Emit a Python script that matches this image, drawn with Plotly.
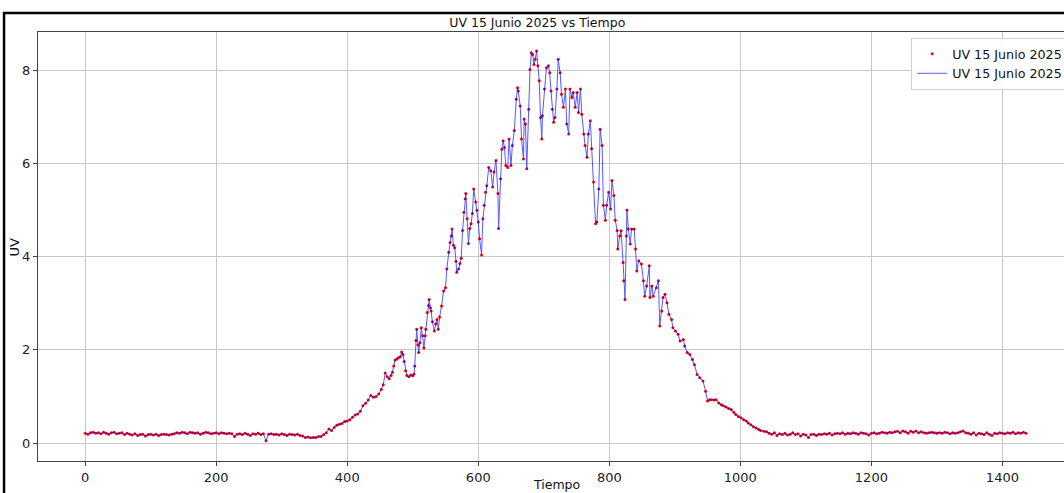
import plotly.graph_objects as go

# ---- data (minutes of the day, UV index) ----
left_times = list(range(0, 360, 4))
left_uv = [0.21, 0.19, 0.22, 0.23, 0.21, 0.22, 0.20, 0.23, 0.21, 0.19, 0.22, 0.23, 0.20, 0.21, 0.22, 0.18,
           0.21, 0.19, 0.17, 0.20, 0.16, 0.18, 0.19, 0.15, 0.18, 0.19, 0.17, 0.19, 0.16, 0.18, 0.19, 0.18, 0.17, 0.19, 0.20,
           0.22, 0.21, 0.23, 0.22, 0.20, 0.23, 0.22, 0.21, 0.22, 0.19, 0.21, 0.23, 0.22, 0.20, 0.21, 0.22, 0.20, 0.22, 0.21, 0.20, 0.21,
           0.20, 0.14, 0.19, 0.20, 0.18, 0.21, 0.19, 0.16, 0.20, 0.19, 0.21, 0.18, 0.20, 0.05, 0.19, 0.20, 0.18, 0.19, 0.17, 0.20, 0.18,
           0.16, 0.19, 0.18, 0.17, 0.19, 0.16,
           0.15, 0.12, 0.13, 0.11, 0.12, 0.12, 0.14]

mid_times = [360, 364, 368, 372, 376, 380, 384, 388, 392, 396, 400, 404, 408, 412, 416, 420, 424, 428, 432, 436,
             440, 444, 448, 452, 455, 458, 461, 464, 467, 469, 471, 473, 476, 478, 481, 483, 485, 487, 489, 491,
             494, 497, 500, 502, 503, 505, 506, 508, 509, 511, 513, 515, 517, 519, 520, 522, 524, 525, 527, 528,
             530, 533, 535, 537, 539, 541, 544, 547, 550, 552, 555, 557, 559, 560, 562, 564, 566, 567, 570, 572,
             574, 576, 578, 580, 581, 583, 585, 587, 589, 591, 593, 596, 598, 600, 602, 605, 607, 609, 611, 613,
             616, 619, 622, 624, 627, 630, 631, 634, 636, 638, 640, 642, 645, 647, 650, 652, 655, 658, 660, 661,
             664, 666, 669, 670, 672, 674, 677, 679, 681, 683, 685, 687, 689, 691, 693, 695, 697, 698, 701, 704,
             707, 709, 711, 713, 715, 717, 720, 722, 725, 727, 730, 733, 735, 738, 740, 743, 745, 748, 751, 753,
             756, 758, 761, 763, 766, 768, 771, 773, 776, 779, 781, 784, 786, 789, 791, 794, 796, 799, 802, 804,
             807, 809, 812, 813, 816, 818, 821, 822, 824, 826, 827, 829, 832, 834, 838, 840, 842, 845, 849, 852,
             854, 857, 861, 862, 865, 867, 872, 875, 877, 880, 882, 885, 888, 891, 895, 897, 901, 905, 908, 913,
             915, 919, 923, 927, 930, 934, 938, 943, 947, 950, 953, 956, 960, 963, 967, 971, 974, 978, 982, 986,
             990, 993, 997, 1001, 1005, 1009, 1012, 1016, 1020, 1024, 1028, 1031, 1036]
mid_uv = [0.14, 0.18, 0.22, 0.30, 0.27, 0.33, 0.38, 0.40, 0.42, 0.46, 0.47, 0.50, 0.55, 0.60, 0.62, 0.68, 0.80, 0.85, 0.92, 1.02,
          0.98, 1.00, 1.05, 1.15, 1.25, 1.50, 1.42, 1.38, 1.45, 1.52, 1.65, 1.78, 1.80, 1.83, 1.85, 1.95, 1.90, 1.75, 1.55, 1.45,
          1.42, 1.46, 1.44, 1.48, 1.65, 2.20, 2.44, 2.10, 1.94, 2.15, 2.47, 2.30, 2.04, 2.30, 2.44, 2.80, 2.95, 3.08, 2.90, 2.83,
          2.60, 2.40, 2.55, 2.65, 2.44, 2.70, 2.94, 3.26, 3.33, 3.73, 4.09, 4.30, 4.44, 4.59, 4.24, 4.19, 3.90, 3.66, 3.73, 3.85,
          3.96, 4.56, 4.95, 5.24, 5.35, 4.81, 4.28, 4.60, 4.70, 4.92, 5.45, 5.17, 4.99, 4.74, 4.38, 4.03, 4.81, 5.10, 5.38, 5.52,
          5.91, 5.84, 5.49, 5.81, 6.06, 5.35, 4.60, 5.67, 6.30, 6.48, 6.34, 5.95, 5.91, 6.52, 5.95, 6.38, 6.70, 7.37, 7.62, 7.55,
          7.23, 6.52, 6.09, 6.95, 6.84, 5.88, 7.16, 8.01, 8.37, 8.33, 8.12, 8.23, 8.41, 8.09, 7.77, 6.98, 6.52, 7.02, 7.59, 8.05,
          8.09, 7.94, 7.55, 7.16, 6.88, 6.98, 7.59, 8.23, 7.94, 7.48, 7.20, 7.59, 6.84, 6.63, 7.59, 7.41, 7.52, 7.20, 7.52, 7.09,
          7.59, 7.05, 6.63, 6.38, 6.13, 6.63, 6.91, 6.31, 5.60, 4.70, 4.74, 5.45, 6.73, 6.38, 5.10, 4.78, 5.10, 5.38, 5.02, 5.63,
          5.31, 4.78, 4.56, 4.16, 4.44, 4.55, 3.87, 3.48, 3.08, 4.44, 5.00, 4.59, 4.27, 4.59, 4.59, 4.16, 3.69, 3.91, 3.84, 3.48,
          3.15, 3.37, 3.80, 3.12, 3.37, 3.15, 3.33, 3.48, 2.51, 2.83, 3.12, 3.19, 3.01, 2.76, 2.65, 2.47, 2.40, 2.33, 2.19, 2.22,
          2.08, 1.94, 1.90, 1.79, 1.68, 1.47, 1.40, 1.33, 1.11, 0.90, 0.93, 0.93, 0.92, 0.93, 0.86, 0.82, 0.80, 0.77, 0.74, 0.72,
          0.66, 0.61, 0.57, 0.54, 0.50, 0.47, 0.43, 0.39, 0.35, 0.32, 0.29, 0.27, 0.25]

right_times = list(range(1040, 1440, 4))
right_uv = [0.24, 0.21, 0.19, 0.22, 0.16, 0.20, 0.18, 0.21, 0.17, 0.19, 0.22, 0.18, 0.20, 0.15, 0.19, 0.17, 0.12, 0.18, 0.19, 0.16, 0.19,
            0.18, 0.20, 0.19, 0.21, 0.17, 0.20, 0.21, 0.20, 0.22, 0.19, 0.21, 0.20, 0.22, 0.21, 0.19, 0.22, 0.21, 0.20, 0.17, 0.21,
            0.22, 0.20, 0.21, 0.23, 0.22, 0.21, 0.23, 0.22, 0.24,
            0.25, 0.22, 0.26, 0.24, 0.21, 0.25, 0.23, 0.26, 0.22, 0.24, 0.22, 0.21, 0.22, 0.23, 0.22, 0.21,
            0.22, 0.21, 0.23, 0.22, 0.20, 0.22, 0.21, 0.22, 0.24, 0.26, 0.22, 0.21, 0.19, 0.22, 0.17, 0.21, 0.20, 0.18, 0.22, 0.19,
            0.16, 0.21, 0.20, 0.22, 0.21, 0.20, 0.22, 0.21, 0.23, 0.20, 0.22, 0.21, 0.23, 0.21]

times = left_times + mid_times + right_times
uv = left_uv + mid_uv + right_uv

x_ticks = [0, 200, 400, 600, 800, 1000, 1200, 1400]
y_ticks = [0, 2, 4, 6, 8]
series_name = "UV 15 Junio 2025"
title_text = "UV 15 Junio 2025 vs Tiempo"

FONT = "DejaVu Sans"

fig = go.Figure()
fig.add_trace(go.Scatter(x=times, y=uv, mode="markers", name=series_name,
                         marker=dict(color="red", size=3, line=dict(width=0))))
fig.add_trace(go.Scatter(x=times, y=uv, mode="lines", name=series_name,
                         line=dict(color="blue", width=1), opacity=0.65))

axis_common = dict(showline=True, linecolor="#444", linewidth=1, mirror=True,
                   showgrid=True, gridcolor="#c8c8c8", gridwidth=1,
                   ticks="outside", ticklen=4, tickcolor="#444",
                   zeroline=False, tickfont=dict(family=FONT, size=13, color="#222"))

fig.update_layout(
    width=1064, height=493,
    margin=dict(l=38, r=0, t=32, b=32, autoexpand=False),
    paper_bgcolor="white", plot_bgcolor="white",
    font=dict(family=FONT, color="#111"),
    title=dict(text=title_text, x=0.505, xanchor="center", y=0.955, yanchor="middle",
               font=dict(family=FONT, size=12.5, color="#111")),
    xaxis=dict(range=[-72, 1494], tickvals=x_ticks, **axis_common),
    yaxis=dict(range=[-0.386, 8.815], tickvals=y_ticks, **axis_common),
    showlegend=True,
    legend=dict(x=0.851, y=0.986, xanchor="left", yanchor="top",
                bgcolor="rgba(255,255,255,0.85)", bordercolor="#d0d0d0", borderwidth=1,
                font=dict(family=FONT, size=12.7, color="#111"), tracegroupgap=0,
                itemwidth=30),
    annotations=[
        dict(text="Tiempo", xref="paper", yref="paper", x=0.505, y=-0.054,
             xanchor="center", yanchor="middle", showarrow=False,
             font=dict(family=FONT, size=12.5, color="#111")),
        dict(text="UV", xref="paper", yref="paper", x=-0.0225, y=0.5,
             xanchor="center", yanchor="middle", showarrow=False, textangle=-90,
             font=dict(family=FONT, size=13, color="#111")),
    ],
    shapes=[
        dict(type="rect", xref="paper", yref="paper",
             x0=-0.0331, x1=1.1, y0=-0.2, y1=1.0443,
             line=dict(color="black", width=2.5), layer="above"),
    ],
)

fig.write_html("out.html", config={"displayModeBar": False},
               post_script="document.body.style.margin='0px';document.body.style.overflow='hidden';")
